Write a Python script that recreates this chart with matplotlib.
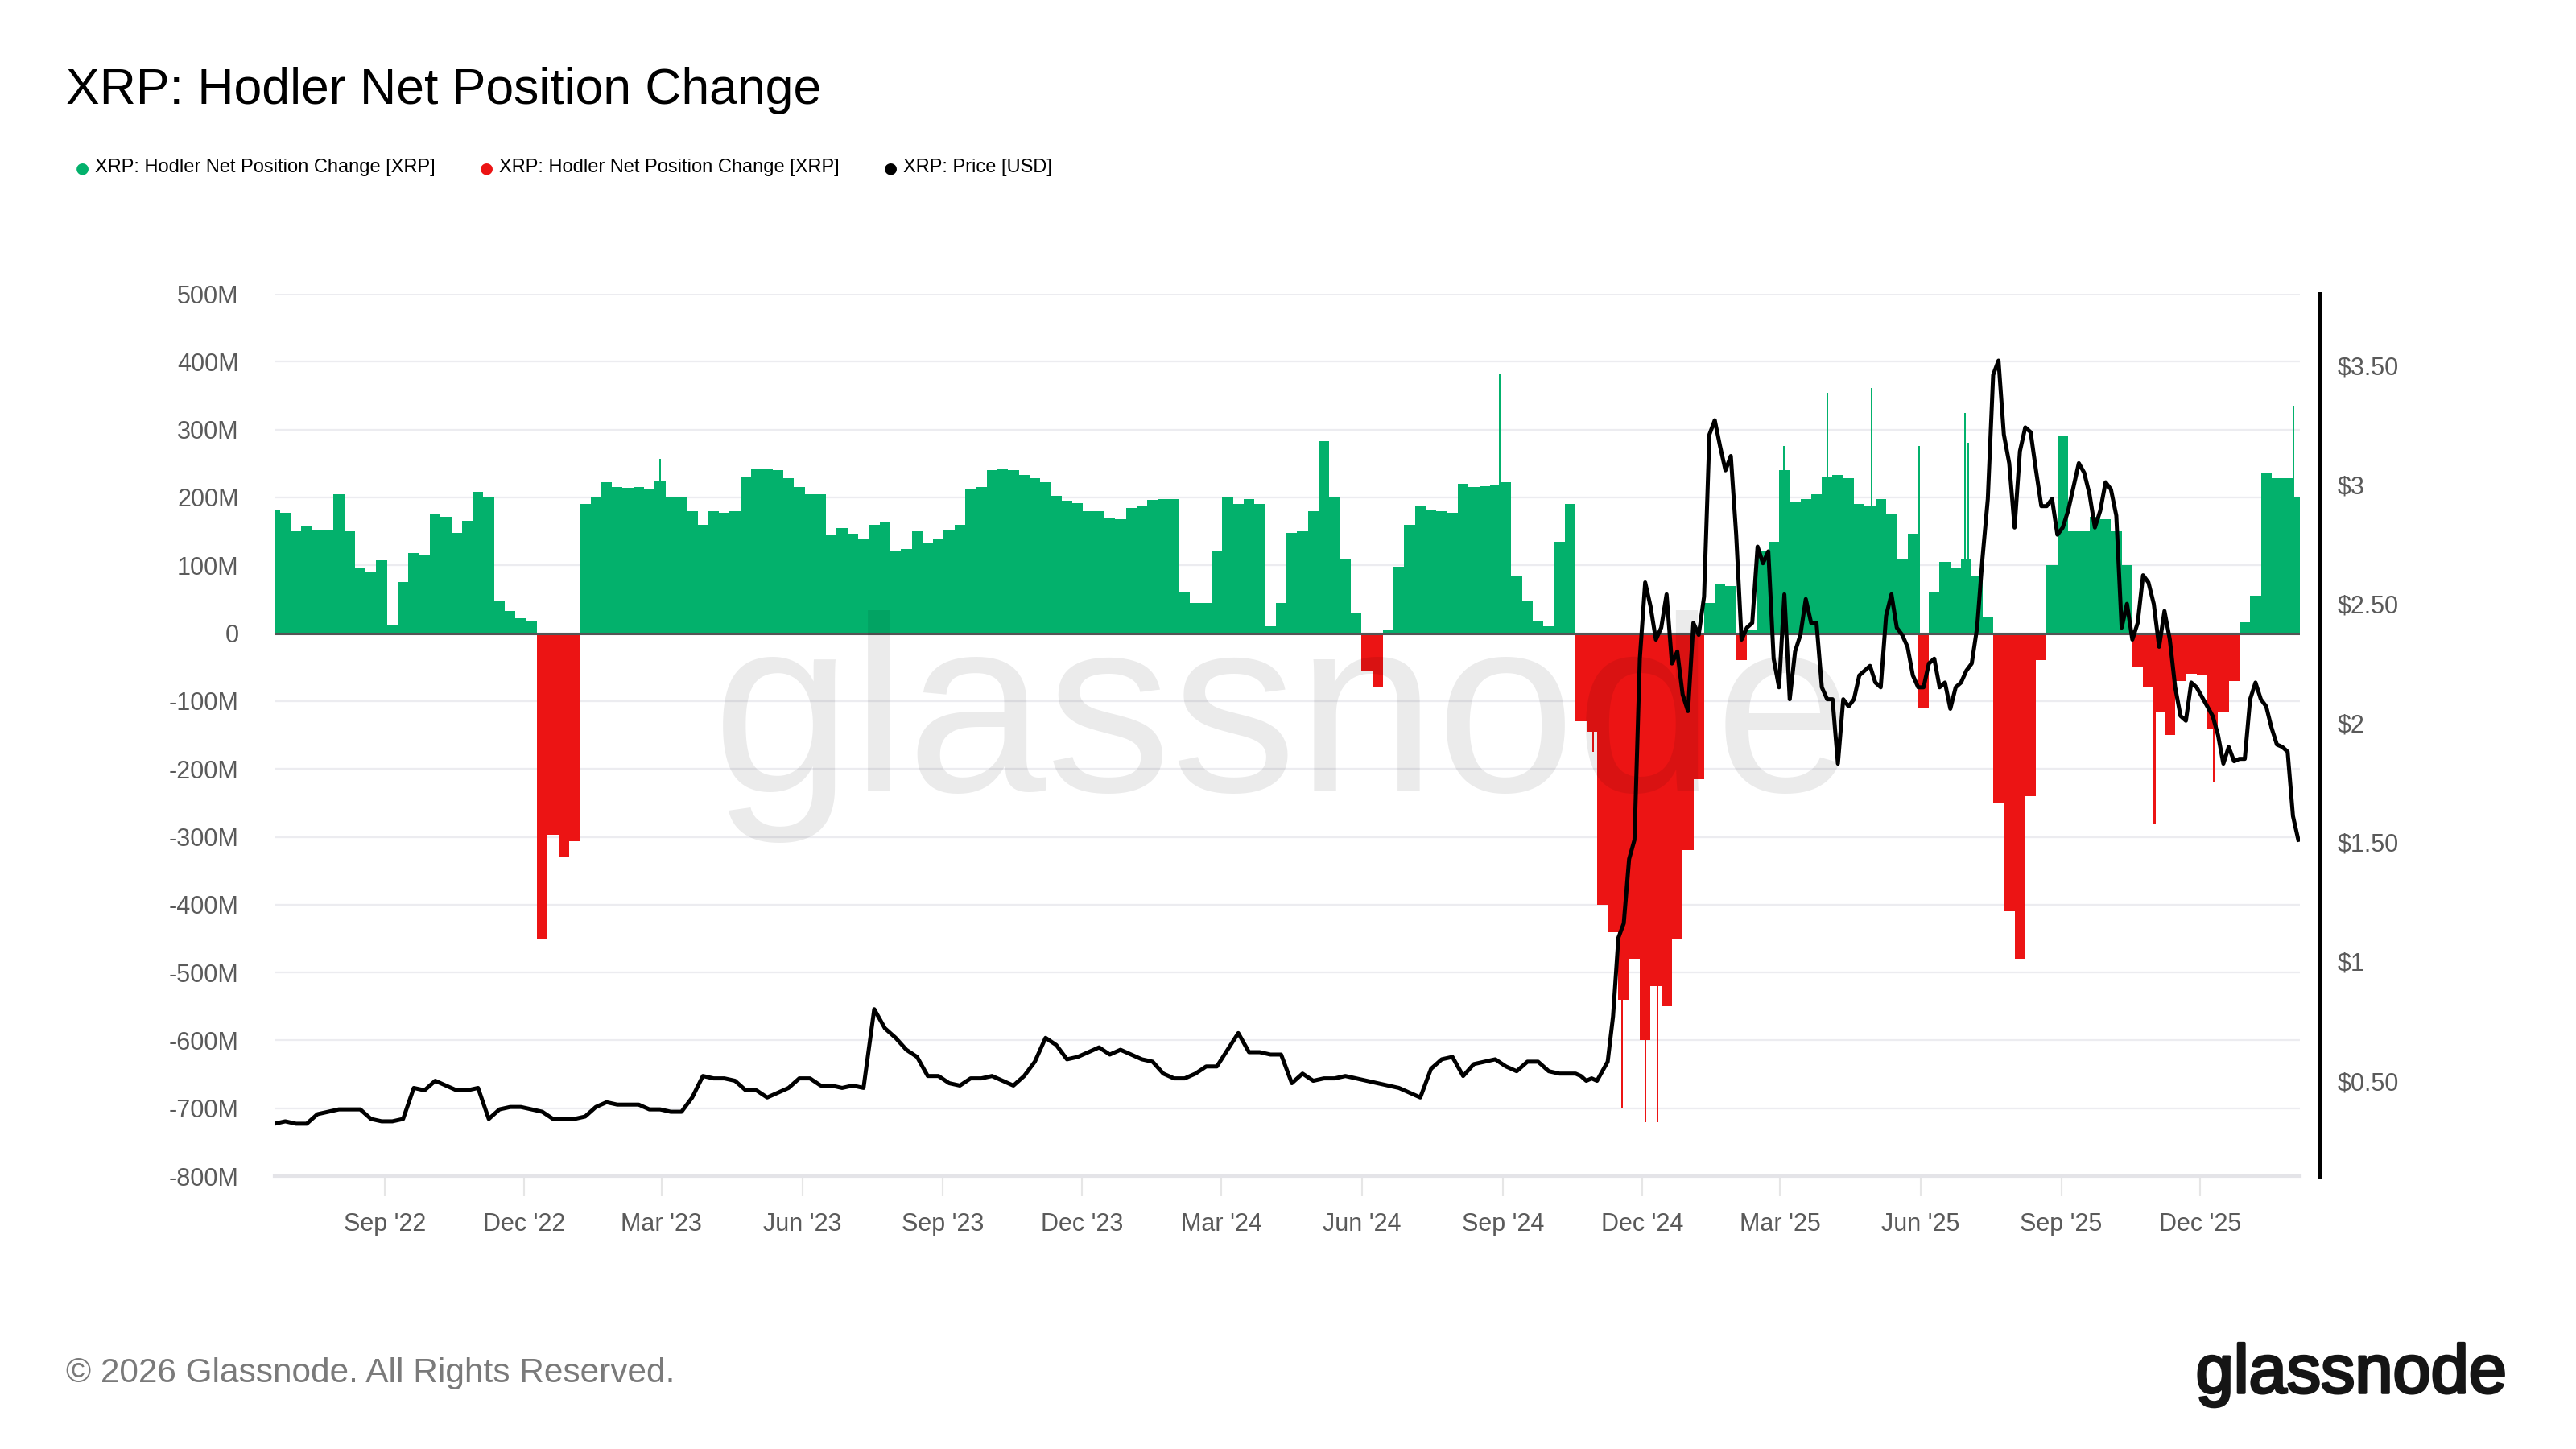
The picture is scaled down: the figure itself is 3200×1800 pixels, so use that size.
# Glassnode-style chart: XRP hodler net position change vs price
import numpy as np
import pandas as pd

import matplotlib
matplotlib.use('Agg')
import matplotlib.pyplot as plt
import matplotlib.dates as mdates
import matplotlib.patheffects as pe
from matplotlib.ticker import FuncFormatter, MultipleLocator

plt.rcParams['font.family'] = ['Liberation Sans', 'DejaVu Sans']

GREEN = '#03b16c'
RED = '#ec1414'
GREY_TXT = '#5a5a5a'

#------------------------------------------------------------------------------
# Data
# weekly hodler net position change, millions of XRP (weeks from 2022-06-21)
net_change_m = [
    182, 178, 150, 158, 153, 152, 205, 150, 95, 90, 108, 12, 75, 118, 115,
    175, 172, 148, 165, 208, 200, 48, 33, 22, 18, -450, -297, -330, -306,
    190, 200, 222, 215, 214,
    215, 212, 225, 200, 200, 180, 160, 180, 177, 180, 230, 243, 242, 240,
    228, 215, 205, 205, 145, 155, 147, 140, 160, 163, 122, 124, 150, 133,
    140, 152, 160, 212,
    215, 240, 241, 240, 233, 228, 222, 202, 195, 192, 180, 180, 170, 168,
    185, 188, 196, 198, 198, 60, 45, 45, 120, 200, 190, 198, 190, 10, 45,
    148, 150, 180,
    283, 200, 110, 30, -55, -80, 5, 98, 160, 188, 182, 180, 178, 220, 215,
    217, 218, 222, 85, 48, 17, 10, 135, 190, -130, -145, -400, -440, -540,
    -480, -600, -520,
    -550, -450, -320, -215, 45, 72, 70, -40, 5, 120, 135, 240, 194, 198,
    205, 230, 233, 228, 190, 188, 198, 175, 110, 146, -110, 60, 105, 95,
    110, 85, 24, -250,
    -410, -480, -240, -40, 100, 290, 150, 150, 172, 168, 150, 100, -50,
    -80, -115, -150, -71, -60, -62, -140, -115, -71, 16, 55, 235, 228, 228,
    200,
]

# single-day spikes that stick out of the weekly blocks
spike_dates = [
    '2023-02-28', '2024-08-30', '2024-10-30', '2024-11-18', '2024-12-03',
    '2024-12-11', '2025-03-04', '2025-04-01', '2025-04-30', '2025-05-31',
    '2025-06-30', '2025-07-02', '2025-11-01', '2025-12-10', '2026-01-31',
]
spike_m = [257, 382, -175, -700, -720, -720, 276, 354, 361, 276, 324, 281,
           -280, -219, 335]

# price [USD], weekly from 2022-06-21 to 2024-10-01
price_weekly = [
    0.32, 0.33, 0.32, 0.32, 0.36, 0.37, 0.38, 0.38, 0.38, 0.34, 0.33, 0.33,
    0.34, 0.47, 0.46, 0.50, 0.48, 0.46, 0.46, 0.47, 0.34, 0.38, 0.39, 0.39,
    0.38, 0.37, 0.34, 0.34, 0.34, 0.35, 0.39, 0.41, 0.40, 0.40,
    0.40, 0.38, 0.38, 0.37, 0.37, 0.43, 0.52, 0.51, 0.51, 0.50, 0.46, 0.46,
    0.43, 0.45, 0.47, 0.51, 0.51, 0.48, 0.48, 0.47, 0.48, 0.47, 0.80, 0.72,
    0.68, 0.63, 0.60, 0.52, 0.52, 0.49, 0.48, 0.51,
    0.51, 0.52, 0.50, 0.48, 0.52, 0.58, 0.68, 0.65, 0.59, 0.60, 0.62, 0.64,
    0.61, 0.63, 0.61, 0.59, 0.58, 0.53, 0.51, 0.51, 0.53, 0.56, 0.56, 0.63,
    0.70, 0.62, 0.62, 0.61, 0.61, 0.49, 0.53, 0.50,
    0.51, 0.51, 0.52, 0.51, 0.50, 0.49, 0.48, 0.47, 0.45, 0.43, 0.55, 0.59,
    0.60, 0.52, 0.57, 0.58, 0.59, 0.56, 0.54, 0.58, 0.58, 0.54,
]

# price [USD], every half week from 2024-10-08 (the volatile part)
price_halfweek = [
    0.53, 0.53, 0.53, 0.53, 0.52, 0.50, 0.51, 0.50, 0.54, 0.58, 0.77, 1.10,
    1.16, 1.43, 1.51, 2.27, 2.59, 2.49, 2.35, 2.40,
    2.54, 2.25, 2.30, 2.12, 2.05, 2.42, 2.37, 2.53, 3.21, 3.27, 3.16, 3.06,
    3.12, 2.79, 2.35, 2.40, 2.42, 2.74, 2.67, 2.72, 2.27, 2.15, 2.54, 2.10,
    2.30, 2.37, 2.52, 2.42, 2.42, 2.15, 2.10, 2.10, 1.83, 2.10, 2.07, 2.10,
    2.20, 2.22, 2.24, 2.17, 2.15, 2.45, 2.54, 2.40, 2.37, 2.32, 2.20, 2.15,
    2.15, 2.25, 2.27, 2.15, 2.17, 2.06, 2.15, 2.17, 2.22, 2.25, 2.40, 2.69,
    2.94, 3.46, 3.52, 3.21, 3.09,
    2.82, 3.14, 3.24, 3.22, 3.06, 2.91, 2.91, 2.94, 2.79, 2.82, 2.89, 2.99,
    3.09, 3.05, 2.96, 2.82, 2.89, 3.01, 2.98, 2.87, 2.40, 2.50, 2.35, 2.42,
    2.62, 2.59, 2.50, 2.32, 2.47, 2.35, 2.15, 2.03, 2.01, 2.17, 2.15, 2.11,
    2.07, 2.03, 1.95, 1.83, 1.90, 1.84, 1.85, 1.85, 2.10, 2.17, 2.10, 2.07,
    1.98, 1.91, 1.90, 1.88, 1.61, 1.51,
]

legend_labels = ['XRP: Hodler Net Position Change [XRP]',
                 'XRP: Hodler Net Position Change [XRP]',
                 'XRP: Price [USD]']


#------------------------------------------------------------------------------
def build_frames():
    weeks = pd.date_range('2022-06-21', periods=len(net_change_m), freq='7D')
    net = pd.Series(net_change_m, index=weeks, dtype=float)
    spikes = pd.Series(spike_m, index=pd.to_datetime(spike_dates), dtype=float)

    p1 = pd.Series(price_weekly,
                   index=pd.date_range('2022-06-21', periods=len(price_weekly),
                                       freq='7D'))
    p2 = pd.Series(price_halfweek,
                   index=pd.date_range('2024-10-08', periods=len(price_halfweek),
                                       freq='84h'))
    price = pd.concat([p1, p2])
    return net, spikes, price


def fmt_m(v, _):
    return '0' if v == 0 else f'{v:.0f}M'


def fmt_usd(v, _):
    return f'${v:.0f}' if abs(v - round(v)) < 1e-6 else f'${v:.2f}'


#------------------------------------------------------------------------------
if __name__ == '__main__':
    net, spikes, price = build_frames()

    fig = plt.figure(figsize=(32, 18), dpi=100)
    ax = fig.add_axes([0.1066, 0.1883, 0.7862, 0.6089])
    ax2 = ax.twinx()

    cols = [GREEN if v >= 0 else RED for v in net.values]
    ax.bar(net.index, net.values, width=7, color=cols, linewidth=0, zorder=2)
    scol = [GREEN if v >= 0 else RED for v in spikes.values]
    ax.bar(spikes.index, spikes.values, width=1.2, color=scol, linewidth=0,
           zorder=2)
    ax.axhline(0, color='#555555', lw=2.2, zorder=3)

    ax2.plot(price.index, price.values, color='black', lw=3.6, zorder=4,
             solid_joinstyle='round')

    # axes ranges
    ax.set_xlim(pd.Timestamp('2022-06-21'), pd.Timestamp('2026-02-04'))
    ax.set_ylim(-800, 500)
    ax2.set_ylim(0.1, 3.8)

    ax.yaxis.set_major_locator(MultipleLocator(100))
    ax.yaxis.set_major_formatter(FuncFormatter(fmt_m))
    ax2.set_yticks([0.5, 1, 1.5, 2, 2.5, 3, 3.5])
    ax2.yaxis.set_major_formatter(FuncFormatter(fmt_usd))

    ax.xaxis.set_major_locator(mdates.MonthLocator(bymonth=[3, 6, 9, 12]))
    ax.xaxis.set_major_formatter(mdates.DateFormatter("%b '%y"))

    ax.yaxis.grid(True, color='#ececf0', lw=1.6, zorder=0)
    ax.set_axisbelow(True)

    for s in ['top', 'left', 'right']:
        ax.spines[s].set_visible(False)
    ax.spines['bottom'].set_color('#e4e4e8')
    ax.spines['bottom'].set_linewidth(3)
    for s in ['top', 'left', 'bottom']:
        ax2.spines[s].set_visible(False)
    ax2.spines['right'].set_position(('outward', 18))
    ax2.spines['right'].set_color('black')
    ax2.spines['right'].set_linewidth(3.6)

    ax.tick_params(axis='x', length=18, width=1.5, color='#e6e6e6', pad=14,
                   labelsize=22, labelcolor=GREY_TXT)
    ax.tick_params(axis='y', length=0, pad=32, labelsize=22,
                   labelcolor=GREY_TXT)
    ax2.tick_params(axis='y', length=0, pad=16, labelsize=22,
                    labelcolor=GREY_TXT)

    # watermark
    ax.text(0.498, 0.51, 'glassnode', transform=ax.transAxes, fontsize=224,
            color='black', alpha=0.08, ha='center', va='center', zorder=6)

    # title
    fig.text(82 / 3200, 1 - 112 / 1800, 'XRP: Hodler Net Position Change',
             fontsize=45, color='black', ha='left', va='center')

    # legend, drawn by hand to keep the spacing
    for xm, col, lab in zip([102, 604, 1106], [GREEN, RED, 'black'],
                            legend_labels):
        fig.text(xm / 3200, 1 - 209 / 1800, '\u25CF', color=col, fontsize=14,
                 ha='center', va='center', family='DejaVu Sans')
        fig.text((xm + 16) / 3200, 1 - 208 / 1800, lab, color='black',
                 fontsize=17, ha='left', va='center')

    # footer
    fig.text(82 / 3200, 1 - 1706 / 1800,
             '\u00A9 2026 Glassnode. All Rights Reserved.',
             fontsize=30.5, color='#7a7a7a', ha='left', va='center')
    fig.text(3114 / 3200, 1 - 1708 / 1800, 'glassnode', fontsize=61,
             color='#151515', ha='right', va='center',
             path_effects=[pe.withStroke(linewidth=2.5, foreground='#151515')])

    fig.savefig('out.png', dpi=100, facecolor='white')
